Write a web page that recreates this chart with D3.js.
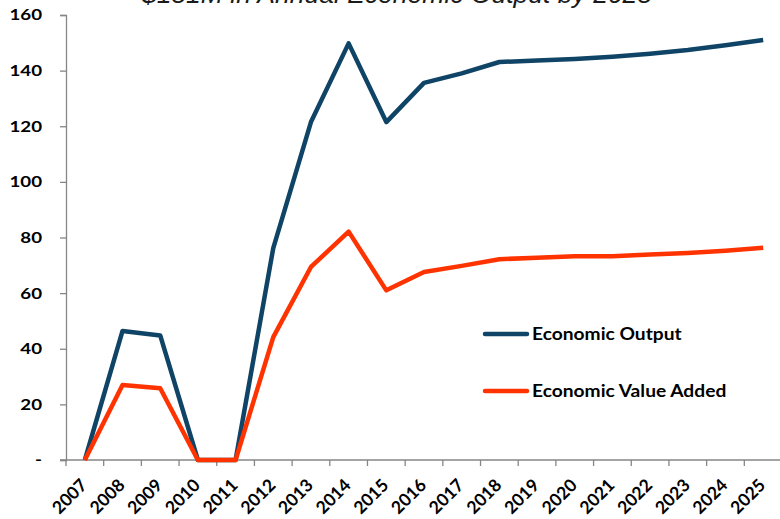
<!DOCTYPE html>
<html>
<head>
<meta charset="utf-8">
<script src="https://cdn.jsdelivr.net/npm/d3@7"></script>
<style>
  body { margin: 0; background: #fff; }
  svg { display: block; }
</style>
</head>
<body>
<div id="chart"></div>
<script>
const width = 780;
const height = 519;

const years = ["2007", "2008", "2009", "2010", "2011", "2012", "2013", "2014", "2015", "2016",
  "2017", "2018", "2019", "2020", "2021", "2022", "2023", "2024", "2025"];
const economicOutput = [0, 46.4, 44.8, 0, 0, 76.2, 121.5, 149.8, 121.5, 135.6,
  139.0, 143.1, 143.6, 144.2, 145.0, 146.1, 147.4, 149.1, 151.0];
const valueAdded = [0, 27.0, 25.8, 0, 0, 44.2, 69.4, 82.1, 61.0, 67.6,
  69.8, 72.2, 72.7, 73.3, 73.3, 73.9, 74.4, 75.2, 76.3];
const yTicks = [0, 20, 40, 60, 80, 100, 120, 140, 160];
const title = "$151M in Annual Economic Output by 2025";

const series = [
  { name: "Economic Output", values: economicOutput, color: "#0f4466" },
  { name: "Economic Value Added", values: valueAdded, color: "#ff3300" }
];

const plotLeft = 66, plotTop = 15, plotBottom = 460, plotRight = 782;

const svg = d3.select("#chart")
  .append("svg")
  .attr("width", width)
  .attr("height", height)
  .style("font-family", "Lato, 'Open Sans', sans-serif");

const x = d3.scaleBand()
  .domain(years)
  .range([plotLeft, plotRight]);

const y = d3.scaleLinear()
  .domain([0, 160])
  .range([plotBottom, plotTop]);

// title, mostly cut off at the top (as in the source image)
svg.append("text")
  .attr("x", 397)
  .attr("y", 3)
  .attr("text-anchor", "middle")
  .attr("font-family", "'Liberation Sans', Arial, sans-serif")
  .attr("font-style", "italic")
  .attr("font-size", 26.5)
  .attr("fill", "#1a1a1a")
  .text(title);

// y axis
const yAxis = svg.append("g")
  .attr("transform", `translate(${plotLeft},0)`)
  .call(d3.axisLeft(y).tickValues(yTicks).tickSize(6).tickFormat(""));
yAxis.select(".domain").attr("stroke", "#868686").attr("stroke-width", 1.3);
yAxis.selectAll(".tick line").attr("stroke", "#868686").attr("stroke-width", 1.3);

svg.append("g")
  .selectAll("text")
  .data(yTicks)
  .join("text")
  .attr("transform", d => `translate(42,${y(d)}) scale(1.25,1)`)
  .attr("text-anchor", "end")
  .attr("dy", "0.36em")
  .attr("font-size", 15)
  .attr("font-weight", "bold")
  .attr("fill", "#000")
  .text(d => d === 0 ? "-" : d);

// x axis, ticks between categories
const xAxis = svg.append("g")
  .attr("transform", `translate(0,${plotBottom})`);
xAxis.append("line")
  .attr("x1", plotLeft - 6).attr("x2", plotRight)
  .attr("stroke", "#868686").attr("stroke-width", 1.3);
xAxis.selectAll("line.tk")
  .data(years)
  .join("line")
  .attr("class", "tk")
  .attr("x1", d => x(d)).attr("x2", d => x(d))
  .attr("y1", 0).attr("y2", 6)
  .attr("stroke", "#868686").attr("stroke-width", 1.3);
xAxis.selectAll("text")
  .data(years)
  .join("text")
  .attr("transform", d => `translate(${x(d) + x.bandwidth() / 2 - 1},${22}) rotate(-45)`)
  .attr("text-anchor", "end")
  .attr("dy", "0.35em")
  .attr("font-size", 17.5)
  .attr("font-weight", "bold")
  .attr("fill", "#000")
  .text(d => d);

const line = d3.line()
  .x((d, i) => x(years[i]) + x.bandwidth() / 2)
  .y(d => y(d));

svg.append("g")
  .selectAll("path")
  .data(series)
  .join("path")
  .attr("fill", "none")
  .attr("stroke", d => d.color)
  .attr("stroke-width", 4.5)
  .attr("stroke-linejoin", "round")
  .attr("d", d => line(d.values));

// legend
const legend = svg.append("g")
  .selectAll("g")
  .data(series)
  .join("g")
  .attr("transform", (d, i) => `translate(485,${334 + i * 57})`);
legend.append("line")
  .attr("x1", 0).attr("x2", 42)
  .attr("stroke", d => d.color)
  .attr("stroke-width", 4.5)
  .attr("stroke-linecap", "round");
legend.append("text")
  .attr("transform", "translate(47,0) scale(1.13,1)")
  .attr("dy", "0.36em")
  .attr("font-size", 17)
  .attr("font-weight", "bold")
  .attr("fill", "#000")
  .text(d => d.name);
</script>
</body>
</html>
